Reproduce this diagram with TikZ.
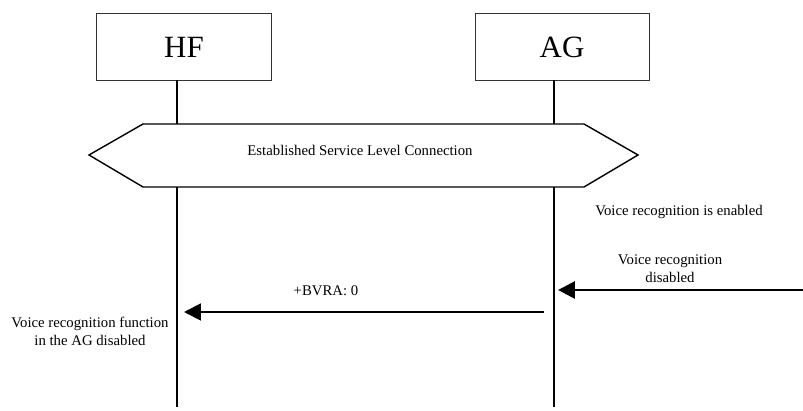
\documentclass[tikz,border=0pt]{standalone}
\usepackage{fontspec}
\setmainfont{Liberation Serif}
\usetikzlibrary{arrows.meta,positioning}

\begin{document}
\begin{tikzpicture}[x=0.025cm, y=-0.025cm,
  entity/.style={rectangle, draw=black!80, line width=0.7pt, minimum width=4.35cm, minimum height=1.65cm, text centered, font=\fontsize{22}{26}\selectfont},
  life/.style={line width=2.1pt},
  note/.style={font=\fontsize{10.5}{12.8}\selectfont, align=center},
  msg/.style={-{Triangle[length=12pt,width=12pt]}, line width=1.4pt}]

\useasboundingbox (0,0) rectangle (803,411);

%Nodes
\node[entity]  (hf)                        at (184,47) {HF};
\node[entity]  (ag)  [right=5.075cm of hf]             {AG};

\coordinate (hfend) at (177,407);
\coordinate (agend) at (554,407);
\coordinate (vrin)  at (803,290);
\coordinate (vrtip) at (558,290);
\coordinate (bvout) at (544,312);
\coordinate (bvtip) at (184,312);

%Lines
\draw[life] (hf.south -| hfend) -- (hfend);
\draw[life] (ag.south -| agend) -- (agend);

\draw[line width=1pt, fill=white] (89,155) -- (143,124) -- (584,124) -- (638,155) -- (584,187) -- (143,187) -- cycle;
\node[note]  (slc)    at (360,150) {Established Service Level Connection};

\node[note]  (vron)   at (679,212) {Voice recognition is enabled};
\node[note]  (vroff)  at (670,269) {Voice recognition\\disabled};
\node[note]  (bvra)   at (326,291) {+BVRA: 0};
\node[note]  (hfoff)  at (90,331)  {Voice recognition function\\in the AG disabled};

\draw[msg, line width=2.1pt] (vrin) -- (vrtip);
\draw[msg] (bvout) -- (bvtip);

\end{tikzpicture}
\end{document}
